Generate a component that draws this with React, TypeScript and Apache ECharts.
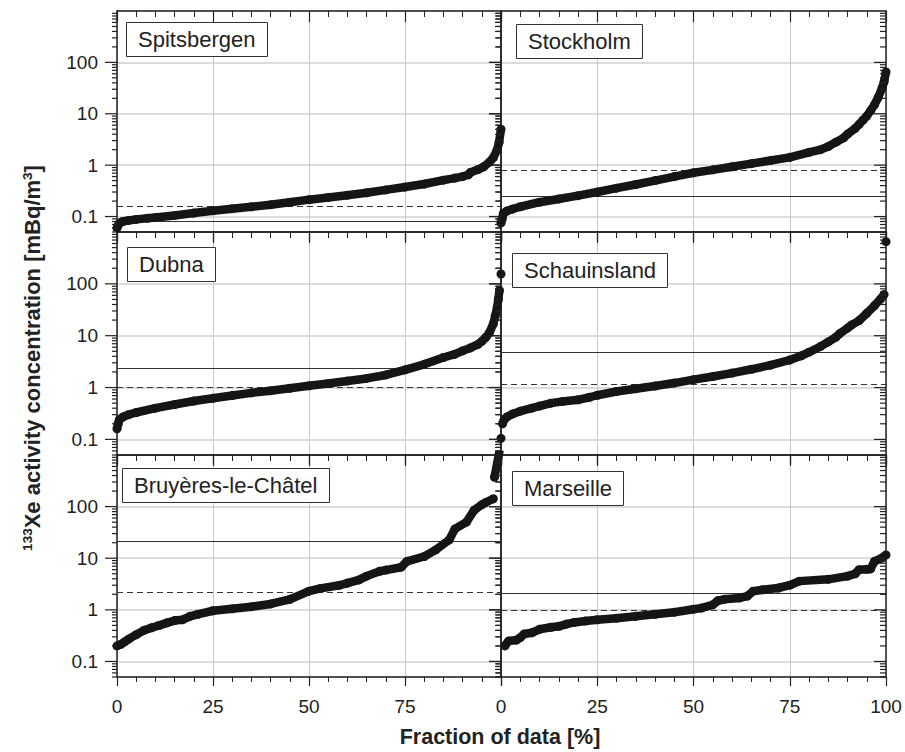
import React, { useEffect, useRef } from "react";
import * as echarts from "echarts";

const FONT = "'Liberation Sans', Arial, Helvetica, sans-serif";

const stations = ["Spitsbergen", "Stockholm", "Dubna", "Schauinsland", "Bruyères-le-Châtel", "Marseille"];

// fraction of data [%] and 133Xe concentration [mBq/m3]; null = gap between points
const spitsbergenX = [0, 0.3, 0.7, 1.5, 3, 5, 8, 10, 15, 20, 25, 30, 35, 40, 45, 50, 55, 60, 65, 70, 75, 80, 85, 88, 90, 91.5, 92, 94, 95.5, 97, 98, 99, 99.5, 100];
const spitsbergenY = [0.06, 0.068, 0.075, 0.08, 0.084, 0.088, 0.093, 0.096, 0.105, 0.117, 0.13, 0.142, 0.155, 0.17, 0.19, 0.213, 0.235, 0.26, 0.29, 0.33, 0.375, 0.43, 0.51, 0.56, 0.6, 0.65, 0.72, 0.82, 0.93, 1.15, 1.4, 2.0, 2.8, 5.0];

const stockholmX = [0, 0.3, 0.6, 1.5, 3, 5, 10, 15, 20, 25, 30, 35, 40, 45, 50, 55, 60, 65, 70, 75, 80, 83, 85, 87, 89, 90, 92, 93, 94, 95, 96, 97, 98, 99, 99.5, 100];
const stockholmY = [0.075, 0.09, 0.115, 0.128, 0.14, 0.155, 0.19, 0.22, 0.255, 0.3, 0.356, 0.42, 0.5, 0.6, 0.71, 0.81, 0.93, 1.07, 1.23, 1.42, 1.78, 2.0, 2.3, 2.8, 3.4, 4.0, 5.2, 6.2, 7.5, 9, 11.5, 15, 21, 32, 42, 65];

const dubnaX = [0, 0.3, 0.6, 1.5, 3, 5, 10, 15, 20, 25, 30, 35, 40, 45, 50, 55, 60, 65, 70, 75, 80, 85, 88, 90, 92, 94, 95, 96, 97, 98, 98.5, 99, 99.3, 99.6, 99.8, 100];
const dubnaY = [0.16, 0.2, 0.24, 0.27, 0.3, 0.33, 0.4, 0.47, 0.55, 0.62, 0.7, 0.79, 0.87, 0.97, 1.08, 1.2, 1.34, 1.5, 1.75, 2.2, 2.8, 3.8, 4.4, 5.1, 5.8, 6.8, 7.8, 9.2, 11.5, 17, 24, 35, 50, 75, null, 155];

const schauinslandX = [0, 0.2, 0.4, 0.8, 1.5, 3, 5, 8, 10, 13, 16, 20, 23, 25, 30, 35, 40, 45, 50, 55, 60, 65, 70, 75, 78, 80, 83, 85, 87, 88, 90, 91, 93, 95, 97, 98.5, 99.5, 99.8, 100];
const schauinslandY = [0.105, null, 0.2, 0.24, 0.27, 0.31, 0.35, 0.4, 0.44, 0.5, 0.54, 0.58, 0.65, 0.71, 0.84, 0.95, 1.07, 1.22, 1.42, 1.63, 1.9, 2.25, 2.7, 3.4, 4.1, 4.8, 6.2, 7.6, 9.4, 11, 14, 16, 19.5, 27, 38, 50, 62, null, 650];

const bruyeresX = [0, 1, 2, 3, 5, 7, 9, 11, 13, 15, 17, 19, 21, 25, 30, 35, 40, 45, 50, 53, 58, 60, 63, 65, 68.4, 70, 74, 75.5, 80, 83, 86.5, 88, 91, 93, 95, 96, 98, 98.1, 98.3, 100];
const bruyeresY = [0.2, 0.215, 0.24, 0.27, 0.33, 0.4, 0.45, 0.5, 0.56, 0.62, 0.64, 0.75, 0.82, 0.96, 1.05, 1.15, 1.3, 1.6, 2.3, 2.6, 3.0, 3.3, 3.8, 4.5, 5.6, 5.9, 6.7, 8.7, 10.8, 14.5, 22.6, 37, 50, 85, 109, 120, 142, null, 370, 1700];

const marseilleX = [1, 2, 4, 5, 6, 8, 10, 13, 15, 17, 19, 22, 25, 30, 35, 40, 45, 50, 52, 55, 56.3, 58, 62, 64, 65.5, 68, 72, 75, 77.5, 85, 90, 92, 93, 95, 96, 97, 99, 100];
const marseilleY = [0.2, 0.25, 0.26, 0.29, 0.34, 0.36, 0.42, 0.46, 0.48, 0.53, 0.57, 0.61, 0.64, 0.69, 0.75, 0.82, 0.9, 1.03, 1.08, 1.25, 1.5, 1.6, 1.7, 1.85, 2.3, 2.45, 2.65, 3.0, 3.6, 3.9, 4.5, 5.0, 6.0, 6.1, 6.2, 8.7, 10.2, 11.6];

const seriesX = [spitsbergenX, stockholmX, dubnaX, schauinslandX, bruyeresX, marseilleX];
const seriesY = [spitsbergenY, stockholmY, dubnaY, schauinslandY, bruyeresY, marseilleY];

const solidLevels = [0.08, 0.25, 2.4, 4.9, 21.5, 2.1];
const dashedLevels = [0.163, 0.78, 1.0, 1.16, 2.15, 1.0];

const yTickLabels = ["0.1", "1", "10", "100"];
const yMin = 0.05;
const yMax = 1000;

// layout
const colLeft = [117, 501];
const colWidth = [384, 385];
const rowTop = [11, 232, 455];
const rowHeight = [221, 223, 222];
const labelPos = [
  [126, 22],
  [516, 24],
  [127, 247],
  [512, 253],
  [122, 468],
  [512, 471],
];

function buildYTicks() {
  const t: number[][] = [];
  for (let e = -2; e <= 2; e++) {
    for (let m = 1; m <= 9; m++) {
      const v = m * Math.pow(10, e);
      if (v >= yMin - 1e-9 && v <= yMax * 0.95) t.push([0, v, m === 1 ? 1 : 0]);
    }
  }
  return t;
}

function yLabel(v: number) {
  const l = Math.log10(v);
  const r = Math.round(l);
  if (Math.abs(l - r) > 1e-6 || r < -1 || r > 2) return "";
  return yTickLabels[r + 1];
}

function buildOption() {
  const grid: any[] = [];
  const xAxis: any[] = [];
  const yAxis: any[] = [];
  const series: any[] = [];
  const title: any[] = [];
  const yTicks = buildYTicks();

  for (let g = 0; g < 6; g++) {
    const row = Math.floor(g / 2);
    const col = g % 2;
    grid.push({ left: colLeft[col], top: rowTop[row], width: colWidth[col], height: rowHeight[row] });
    const isBottom = row === 2;
    xAxis.push({
      type: "value", gridIndex: g, position: "bottom", min: 0, max: 100, interval: 25,
      axisLine: { show: true, onZero: false, lineStyle: { color: "#222", width: 1.5 } },
      axisTick: { show: true, inside: false, length: 9, lineStyle: { color: "#222", width: 1.2 } },
      minorTick: { show: true, splitNumber: 5, length: 5, lineStyle: { color: "#222", width: 1 } },
      axisLabel: {
        show: isBottom, margin: 20, fontSize: 19, color: "#222", fontFamily: FONT,
        formatter: (v: number) => (col === 0 && v === 100 ? "" : String(v)),
      },
      splitLine: { show: true, lineStyle: { color: "#c8c8c8", width: 1 } },
    });
    xAxis.push({
      type: "value", gridIndex: g, position: "top", min: 0, max: 100, interval: 25,
      axisLine: { show: true, onZero: false, lineStyle: { color: "#222", width: 1.5 } },
      axisTick: { show: true, inside: true, length: 11, lineStyle: { color: "#222", width: 1.2 } },
      minorTick: { show: true, splitNumber: 5, length: 6, lineStyle: { color: "#222", width: 1 } },
      axisLabel: { show: false },
      splitLine: { show: false },
    });
    yAxis.push({
      type: "log", logBase: 10, gridIndex: g, position: "left", min: yMin, max: yMax,
      axisLine: { show: true, onZero: false, lineStyle: { color: "#222", width: 1.5 } },
      axisTick: { show: false },
      axisLabel: { show: col === 0, margin: 19, fontSize: 19, color: "#222", fontFamily: FONT, formatter: yLabel },
      splitLine: { show: true, lineStyle: { color: "#dcdcdc", width: 2 } },
    });
    yAxis.push({
      type: "log", logBase: 10, gridIndex: g, position: "right", min: yMin, max: yMax,
      axisLine: { show: true, onZero: false, lineStyle: { color: "#222", width: 1.5 } },
      axisTick: { show: false },
      axisLabel: { show: false },
      splitLine: { show: false },
    });

    title.push({
      text: stations[g], left: labelPos[g][0], top: labelPos[g][1], padding: [5, 12],
      borderColor: "#333", borderWidth: 1, backgroundColor: "#fff",
      textStyle: { fontSize: 22, fontWeight: "normal", color: "#222", fontFamily: FONT, lineHeight: 25 },
    });

    const xs = seriesX[g];
    const ys = seriesY[g];
    const data = xs.map((x, i) => (ys[i] === null ? [x, "-"] : [x, ys[i]]));
    series.push({
      type: "line", xAxisIndex: 2 * g, yAxisIndex: 2 * g, data,
      symbol: "circle", symbolSize: 9, showAllSymbol: true, connectNulls: false, clip: true,
      lineStyle: { color: "#151515", width: 8.5 }, itemStyle: { color: "#151515" },
      z: 3, silent: true,
      markLine: {
        silent: true, symbol: "none", z: 1, animation: false,
        label: { show: false },
        data: [
          { yAxis: solidLevels[g], lineStyle: { type: "solid", color: "#333", width: 1 } },
          { yAxis: dashedLevels[g], lineStyle: { type: [6, 4], color: "#333", width: 1 } },
        ],
      },
    });
    series.push({
      type: "custom", xAxisIndex: 2 * g, yAxisIndex: 2 * g, data: yTicks, silent: true,
      encode: { x: 0, y: 1 }, z: 4, clip: false,
      renderItem: (params: any, api: any) => {
        const v = api.value(1);
        const major = api.value(2) === 1;
        const pL = api.coord([0, v]);
        const pR = api.coord([100, v]);
        const len = major ? 12 : 5;
        return {
          type: "group",
          children: [
            { type: "line", shape: { x1: pL[0] - len, y1: pL[1], x2: pL[0], y2: pL[1] }, style: { stroke: "#222", lineWidth: 1.2 } },
            { type: "line", shape: { x1: pR[0] - (major ? 12 : 6), y1: pR[1], x2: pR[0], y2: pR[1] }, style: { stroke: "#222", lineWidth: 1.2 } },
          ],
        };
      },
    });
  }

  return {
    animation: false,
    backgroundColor: "#fff",
    textStyle: { fontFamily: FONT },
    title,
    grid,
    xAxis,
    yAxis,
    series,
    graphic: [
      {
        type: "text", x: 500, y: 737,
        style: { text: "Fraction of data [%]", fontSize: 21.5, fontWeight: "bold", fontFamily: FONT, fill: "#222", align: "center", verticalAlign: "middle" },
      },
      {
        type: "text", x: 32, y: 358, rotation: Math.PI / 2,
        style: {
          text: "{s|133}{b|Xe activity concentration [mBq/m}{s|3}{b|]}",
          align: "center", verticalAlign: "middle", fill: "#222",
          rich: {
            s: { fontSize: 13.5, fontWeight: "bold", fontFamily: FONT, fill: "#222", verticalAlign: "top", lineHeight: 24 },
            b: { fontSize: 22, fontWeight: "bold", fontFamily: FONT, fill: "#222", lineHeight: 24 },
          },
        },
      },
    ],
  };
}

export default function App() {
  const ref = useRef<HTMLDivElement>(null);
  useEffect(() => {
    document.body.style.margin = "0";
    const chart = echarts.init(ref.current as HTMLDivElement, null, { renderer: "svg" });
    chart.setOption(buildOption() as any);
    return () => chart.dispose();
  }, []);
  return <div ref={ref} style={{ width: 905, height: 752 }} />;
}
